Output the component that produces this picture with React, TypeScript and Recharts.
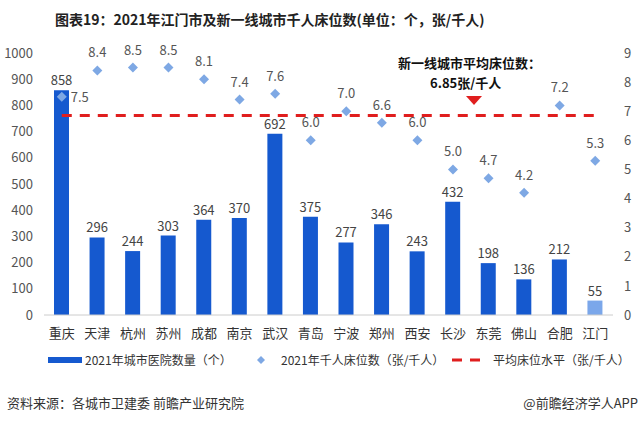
import { ComposedChart, Bar, Line, Scatter, XAxis, YAxis, Cell, LabelList } from 'recharts';

const cities = ['重庆', '天津', '杭州', '苏州', '成都', '南京', '武汉', '青岛', '宁波', '郑州', '西安', '长沙', '东莞', '佛山', '合肥', '江门'];
const hospitals = [858, 296, 244, 303, 364, 370, 692, 375, 277, 346, 243, 432, 198, 136, 212, 55];
const beds = [7.5, 8.4, 8.5, 8.5, 8.1, 7.4, 7.6, 6.0, 7.0, 6.6, 6.0, 5.0, 4.7, 4.2, 7.2, 5.3];
const avgBeds = 6.85;
const leftTicks = [0, 100, 200, 300, 400, 500, 600, 700, 800, 900, 1000];
const rightTicks = [0, 1, 2, 3, 4, 5, 6, 7, 8, 9];

const BLUE = '#1559cf';
const LIGHT_BLUE = '#7ba7ea';
const DIAMOND = '#7ea8e4';
const RED = '#e01e1e';
const FONT = '"Noto Sans CJK SC", "Noto Sans", sans-serif';

const data = cities.map((c, i) => ({
  city: c,
  hospitals: hospitals[i],
  beds: beds[i],
  avg: avgBeds,
}));

// 菱形点 + 数值标签（重庆的标签放在右侧，避免与柱顶标签重叠）
const DiamondShape = (props: any) => {
  const { cx, cy, payload } = props;
  const r = 5;
  const side = payload.city === '重庆';
  return (
    <g>
      <path d={`M${cx},${cy - r} L${cx + r},${cy} L${cx},${cy + r} L${cx - r},${cy} Z`} fill={DIAMOND} />
      <text
        x={side ? cx + 9 : cx}
        y={side ? cy + 5 : cy - 13}
        textAnchor={side ? 'start' : 'middle'}
        fontSize={13}
        fill="#555"
        fontFamily={FONT}
      >
        {payload.beds.toFixed(1)}
      </text>
    </g>
  );
};

const legendText = { position: 'absolute' as const, top: 351, fontSize: 12, color: '#333', whiteSpace: 'nowrap' as const, lineHeight: '18px' };

export default function App() {
  return (
    <div style={{ position: 'absolute', left: 0, top: 0, width: 640, height: 423, background: '#fff', fontFamily: FONT, color: '#333' }}>
      <div style={{ position: 'absolute', left: 55, top: 9, fontSize: 14, fontWeight: 700, whiteSpace: 'nowrap', color: '#222' }}>
        图表19：2021年江门市及新一线城市千人床位数(单位：个，张/千人)
      </div>

      <div style={{ position: 'absolute', left: 0, top: 0 }}>
        <ComposedChart width={640} height={345} data={data} margin={{ top: 53, right: 0, bottom: 0, left: 0 }}>
          <XAxis
            dataKey="city"
            height={30}
            interval={0}
            tickLine={false}
            axisLine={{ stroke: '#cccccc' }}
            tickMargin={8}
            tick={{ fontSize: 13, fill: '#333', fontFamily: FONT }}
          />
          <YAxis
            yAxisId="left"
            width={44}
            domain={[0, 1000]}
            ticks={leftTicks}
            axisLine={false}
            tickLine={false}
            tickSize={0}
            tickMargin={11}
            tick={{ fontSize: 13, fill: '#555', fontFamily: FONT }}
          />
          <YAxis
            yAxisId="right"
            orientation="right"
            width={27}
            domain={[0, 9]}
            ticks={rightTicks}
            axisLine={false}
            tickLine={false}
            tickSize={0}
            tickMargin={11}
            tick={{ fontSize: 13, fill: '#555', fontFamily: FONT }}
          />
          <Bar yAxisId="left" dataKey="hospitals" barSize={15} isAnimationActive={false}>
            {data.map((d, i) => (
              <Cell key={i} fill={d.city === '江门' ? LIGHT_BLUE : BLUE} />
            ))}
            <LabelList dataKey="hospitals" position="top" offset={5} fontSize={13} fill="#444" fontFamily={FONT} />
          </Bar>
          <Line
            yAxisId="right"
            dataKey="avg"
            stroke={RED}
            strokeWidth={3}
            strokeDasharray="10 8"
            dot={false}
            activeDot={false}
            isAnimationActive={false}
          />
          <Scatter yAxisId="right" dataKey="beds" shape={DiamondShape} isAnimationActive={false} />
        </ComposedChart>
      </div>

      {/* 注释 */}
      <div style={{ position: 'absolute', left: 398, top: 53, fontSize: 13, fontWeight: 700, color: '#111', whiteSpace: 'nowrap' }}>
        新一线城市平均床位数：
      </div>
      <div style={{ position: 'absolute', left: 430, top: 73, fontSize: 13, fontWeight: 700, color: '#111', whiteSpace: 'nowrap' }}>
        6.85张/千人
      </div>
      <svg style={{ position: 'absolute', left: 466, top: 96 }} width={16} height={10}>
        <path d="M0,0 L16,0 L8,9 Z" fill={RED} />
      </svg>

      {/* 图例 */}
      <span style={{ position: 'absolute', left: 48, top: 357, width: 34, height: 6, background: BLUE }} />
      <span style={{ ...legendText, left: 85 }}>2021年城市医院数量（个）</span>
      <svg style={{ position: 'absolute', left: 256, top: 355 }} width={10} height={10}>
        <path d="M5,1 L9,5 L5,9 L1,5 Z" fill={DIAMOND} />
      </svg>
      <span style={{ ...legendText, left: 281 }}>2021年千人床位数（张/千人）</span>
      <svg style={{ position: 'absolute', left: 452, top: 357 }} width={30} height={6}>
        <line x1={0} y1={3} x2={30} y2={3} stroke={RED} strokeWidth={3} strokeDasharray="10 8" />
      </svg>
      <span style={{ ...legendText, left: 493 }}>平均床位水平（张/千人）</span>

      {/* 来源 */}
      <div style={{ position: 'absolute', left: 7, top: 393, fontSize: 13, color: '#333', whiteSpace: 'nowrap' }}>
        资料来源：各城市卫建委 前瞻产业研究院
      </div>
      <div style={{ position: 'absolute', right: 2, top: 393, fontSize: 13, color: '#333', whiteSpace: 'nowrap' }}>
        @前瞻经济学人APP
      </div>
    </div>
  );
}
